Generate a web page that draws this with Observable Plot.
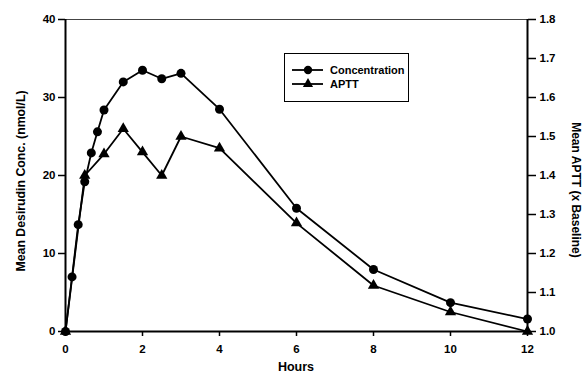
<!DOCTYPE html>
<html>
<head>
<meta charset="utf-8">
<script src="https://cdn.jsdelivr.net/npm/d3@7"></script>
<script src="https://cdn.jsdelivr.net/npm/@observablehq/plot@0.6"></script>
<style>
  html, body { margin: 0; padding: 0; background: #fff; }
  #wrap { position: relative; width: 585px; height: 380px; font-family: "Liberation Sans", Arial, sans-serif; }
  #legend { position: absolute; left: 284px; top: 53px; width: 123px; height: 47px; border: 1.5px solid #000; background: #fff; font-weight: bold; font-size: 11px; }
  #legend .row { position: absolute; left: 7px; height: 14px; display: flex; align-items: center; }
  #legend svg { display: block; margin-right: 7px; }
</style>
</head>
<body>
<div id="wrap"></div>
<script>
// Data
const hours = [0, 0.17, 0.33, 0.5, 0.67, 0.83, 1, 1.5, 2, 2.5, 3, 4, 6, 8, 10, 12];
const concentration = [0, 7.0, 13.7, 19.2, 22.9, 25.6, 28.4, 32.0, 33.5, 32.4, 33.1, 28.5, 15.8, 7.95, 3.7, 1.6];
const apttHours = [0, 0.5, 1, 1.5, 2, 2.5, 3, 4, 6, 8, 10, 12];
const aptt = [1.0, 1.40, 1.455, 1.52, 1.46, 1.40, 1.50, 1.47, 1.278, 1.118, 1.05, 1.0];
const xTicks = [0, 2, 4, 6, 8, 10, 12];
const leftTicks = [0, 10, 20, 30, 40];
const rightTicks = [1.0, 1.1, 1.2, 1.3, 1.4, 1.5, 1.6, 1.7, 1.8];

// APTT (1.0–1.8) maps onto the concentration scale (0–40)
const toLeft = a => (a - 1) * 50;

const concData = hours.map((h, i) => ({h, v: concentration[i]}));
const apttData = apttHours.map((h, i) => ({h, v: toLeft(aptt[i])}));

const plot = Plot.plot({
  width: 585,
  height: 380,
  marginLeft: 65,
  marginRight: 58,
  marginTop: 19,
  marginBottom: 49,
  style: {fontFamily: "'Liberation Sans', Arial, sans-serif", fontSize: "11.5px", fontWeight: "bold", background: "white", color: "#000", overflow: "visible"},
  x: {domain: [0, 12]},
  y: {domain: [0, 40]},
  marks: [
    Plot.ruleY([40], {stroke: "#444", strokeWidth: 1}),
    Plot.axisX(xTicks, {tickSize: 5, tickPadding: 8, strokeWidth: 1.5, label: null, fontWeight: "bold"}),
    Plot.axisY(leftTicks, {anchor: "left", tickSize: 7, tickPadding: 3, strokeWidth: 1.5, label: null, fontWeight: "bold"}),
    Plot.axisY(rightTicks.map(toLeft), {anchor: "right", tickSize: 8, tickPadding: 4, strokeWidth: 1.5, tickFormat: d => (d / 50 + 1).toFixed(1), label: null, fontWeight: "bold"}),
    Plot.ruleX([0, 12], {strokeWidth: 2}),
    Plot.ruleY([0], {strokeWidth: 2}),
    Plot.line(concData, {x: "h", y: "v", stroke: "#000", strokeWidth: 1.8}),
    Plot.line(apttData, {x: "h", y: "v", stroke: "#000", strokeWidth: 1.8}),
    Plot.dot(concData, {x: "h", y: "v", r: 4.5, fill: "#000", stroke: "none"}),
    Plot.dot(apttData, {x: "h", y: "v", r: 4.2, symbol: "triangle", fill: "#000", stroke: "none"})
  ]
});

const wrap = document.getElementById("wrap");
wrap.appendChild(plot);

const svg = d3.select(plot);
// Axis titles
svg.append("text")
  .attr("transform", "translate(296,367)")
  .attr("text-anchor", "middle")
  .attr("dominant-baseline", "central")
  .style("font-size", "12.5px")
  .text("Hours");
svg.append("text")
  .attr("transform", "translate(21,181) rotate(-90)")
  .attr("text-anchor", "middle")
  .attr("dominant-baseline", "central")
  .style("font-size", "12.3px")
  .text("Mean Desirudin Conc. (nmol/L)");
svg.append("text")
  .attr("transform", "translate(576,190) rotate(90)")
  .attr("text-anchor", "middle")
  .attr("dominant-baseline", "central")
  .style("font-size", "12px")
  .text("Mean APTT (x Baseline)");

// Legend
const legend = document.createElement("div");
legend.id = "legend";
const items = [{label: "Concentration", symbol: "circle"}, {label: "APTT", symbol: "triangle"}];
items.forEach((it, i) => {
  const row = document.createElement("div");
  row.className = "row";
  row.style.top = (9 + i * 14) + "px";
  const s = d3.create("svg").attr("width", 31).attr("height", 12);
  s.append("line").attr("x1", 0).attr("x2", 31).attr("y1", 6).attr("y2", 6).attr("stroke", "#000").attr("stroke-width", 1.8);
  s.append("path").attr("transform", "translate(16,6)").attr("d", d3.symbol(it.symbol === "circle" ? d3.symbolCircle : d3.symbolTriangle, it.symbol === "circle" ? 55 : 45)()).attr("fill", "#000");
  row.appendChild(s.node());
  const t = document.createElement("span");
  t.textContent = it.label;
  row.appendChild(t);
  legend.appendChild(row);
});
wrap.appendChild(legend);
</script>
</body>
</html>
